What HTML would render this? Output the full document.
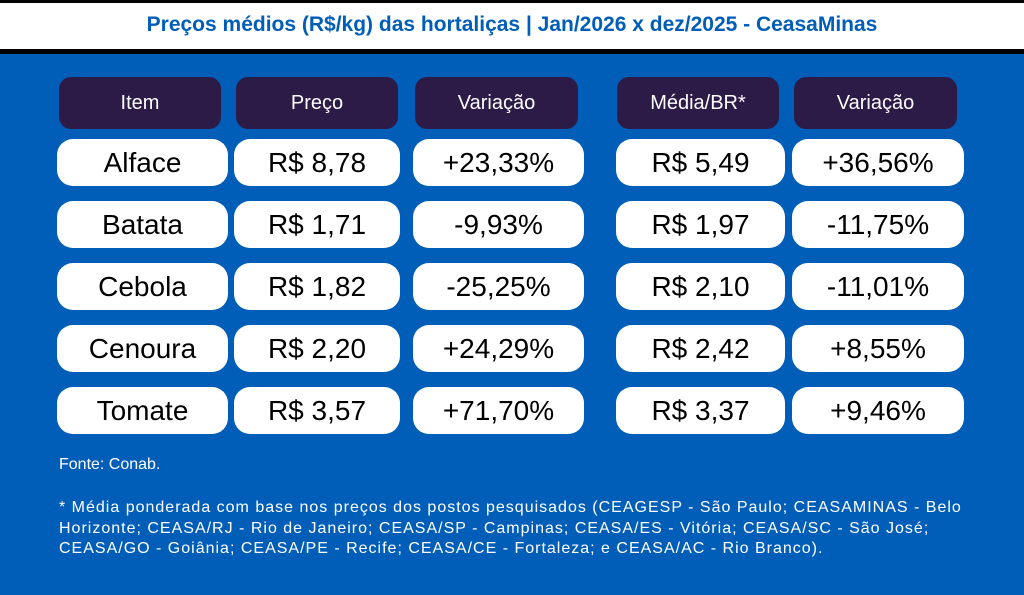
<!DOCTYPE html>
<html><head><meta charset="utf-8"><style>
body{margin:0;width:1024px;height:595px;background:#005EB8;position:relative;overflow:hidden;font-family:"Liberation Sans","DejaVu Sans",sans-serif}
.top{position:absolute;left:0;top:0;width:1024px;height:49px;background:#fff;border-top:3px solid #000;box-sizing:border-box}
.line{position:absolute;left:0;top:49px;width:1024px;height:5px;background:#000}
.title{position:absolute;left:0;top:13px;width:1024px;text-align:center;color:#005EB8;font-weight:bold;font-size:21px}
.h{position:absolute;height:52px;top:77px;background:#2C1A47;border-radius:12px;color:#fff;font-size:20px;line-height:52px;text-align:center}
.c{position:absolute;height:47px;background:#fff;border-radius:16px;color:#000;font-size:28px;line-height:47px;text-align:center}
.f{position:absolute;left:59px;color:#fff;font-size:16px;line-height:20.5px;white-space:nowrap}
</style></head><body>
<div class="top"></div><div class="line"></div>
<div class="title">Preços médios (R$/kg) das hortaliças | Jan/2026 x dez/2025 - CeasaMinas</div>
<div class="h" style="left:59px;width:162px">Item</div>
<div class="h" style="left:236px;width:162px">Preço</div>
<div class="h" style="left:415px;width:163px">Variação</div>
<div class="h" style="left:617px;width:162px">Média/BR*</div>
<div class="h" style="left:794px;width:163px">Variação</div>
<div class="c" style="left:57px;width:171px;top:139px">Alface</div><div class="c" style="left:234px;width:166px;top:139px">R$ 8,78</div><div class="c" style="left:413px;width:171px;top:139px">+23,33%</div><div class="c" style="left:616px;width:169px;top:139px">R$ 5,49</div><div class="c" style="left:792px;width:172px;top:139px">+36,56%</div>
<div class="c" style="left:57px;width:171px;top:201px">Batata</div><div class="c" style="left:234px;width:166px;top:201px">R$ 1,71</div><div class="c" style="left:413px;width:171px;top:201px">-9,93%</div><div class="c" style="left:616px;width:169px;top:201px">R$ 1,97</div><div class="c" style="left:792px;width:172px;top:201px">-11,75%</div>
<div class="c" style="left:57px;width:171px;top:263px">Cebola</div><div class="c" style="left:234px;width:166px;top:263px">R$ 1,82</div><div class="c" style="left:413px;width:171px;top:263px">-25,25%</div><div class="c" style="left:616px;width:169px;top:263px">R$ 2,10</div><div class="c" style="left:792px;width:172px;top:263px">-11,01%</div>
<div class="c" style="left:57px;width:171px;top:325px">Cenoura</div><div class="c" style="left:234px;width:166px;top:325px">R$ 2,20</div><div class="c" style="left:413px;width:171px;top:325px">+24,29%</div><div class="c" style="left:616px;width:169px;top:325px">R$ 2,42</div><div class="c" style="left:792px;width:172px;top:325px">+8,55%</div>
<div class="c" style="left:57px;width:171px;top:387px">Tomate</div><div class="c" style="left:234px;width:166px;top:387px">R$ 3,57</div><div class="c" style="left:413px;width:171px;top:387px">+71,70%</div><div class="c" style="left:616px;width:169px;top:387px">R$ 3,37</div><div class="c" style="left:792px;width:172px;top:387px">+9,46%</div>
<div class="f" style="top:455px">Fonte: Conab.</div>
<div class="f" style="top:498px;letter-spacing:1px">* Média ponderada com base nos preços dos postos pesquisados (CEAGESP - São Paulo; CEASAMINAS - Belo<br>Horizonte; CEASA/RJ - Rio de Janeiro; CEASA/SP - Campinas; CEASA/ES - Vitória; CEASA/SC - São José;<br>CEASA/GO - Goiânia; CEASA/PE - Recife; CEASA/CE - Fortaleza; e CEASA/AC - Rio Branco).</div>
</body></html>
